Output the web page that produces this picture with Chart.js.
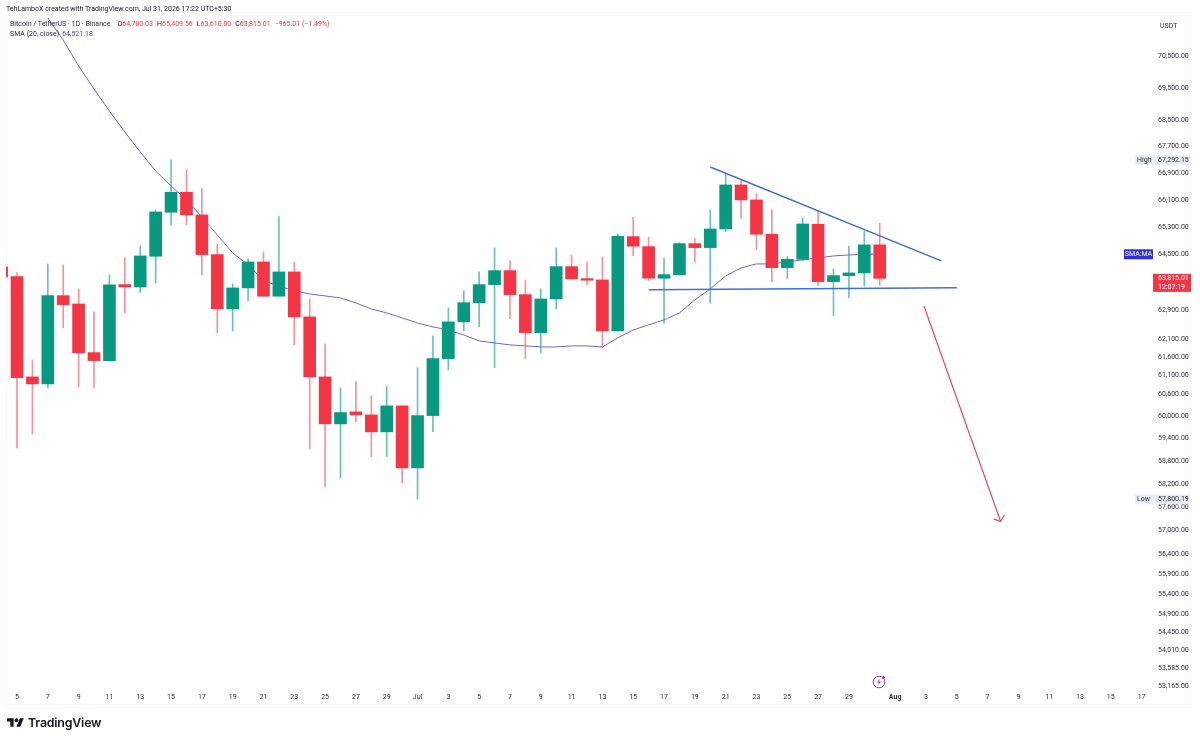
<!DOCTYPE html>
<html>
<head>
<meta charset="utf-8">
<title>BTCUSDT 1D</title>
<script src="https://cdn.jsdelivr.net/npm/chart.js@4/dist/chart.umd.min.js"></script>
<style>
  html, body { margin: 0; padding: 0; background: #fff; }
  #wrap { position: relative; width: 1200px; height: 740px; overflow: hidden; font-family: Roboto, sans-serif; color: #2a2e39; }
  #wrap canvas { position: absolute; left: 0; top: 0; }
  .frame { position: absolute; left: 6px; top: 15px; width: 1185px; height: 690px; border: 1px solid #f7f8fb; box-sizing: border-box; }
  .txt { position: absolute; white-space: nowrap; font-size: 7px; line-height: 10px; }
  .red { color: #f23645; }
  .blue { color: #3f3fd0; }
  .gap { margin-left: 4px; }
  #logoText { position: absolute; left: 28px; top: 715px; font: 600 12.4px Inter, sans-serif; color: #131722; letter-spacing: -0.2px; }
</style>
</head>
<body>
<div id="wrap">
  <div class="frame"></div>
  <canvas id="chart" width="1200" height="740"></canvas>
  <div class="txt" style="left:6px;top:4px;color:#131722">TehLamboX created with TradingView.com, Jul 31, 2026 17:22 UTC+5:30</div>
  <div class="txt" style="left:10px;top:19px">Bitcoin / TetherUS · 1D · Binance<span style="margin-left:7px">O</span><span class="red">64,780.03</span><span class="gap">H</span><span class="red">65,409.56</span><span class="gap">L</span><span class="red">63,610.00</span><span class="gap">C</span><span class="red">63,815.01</span><span class="red gap">−965.01 (−1.49%)</span></div>
  <div class="txt" style="left:10px;top:29px">SMA (20, close)<span class="blue" style="margin-left:3px">64,521.18</span></div>
  <div class="txt" style="left:1160px;top:21px">USDT</div>
  <svg style="position:absolute;left:871px;top:673px" width="18" height="18" viewBox="0 0 18 18">
    <circle cx="8" cy="9" r="5.8" fill="none" stroke="#8e4fa8" stroke-width="1"/>
    <path d="M9 5.5 6 9.5h2l-1 3 3-4H8z" fill="#8e4fa8"/>
    <circle cx="12.5" cy="4.5" r="1.5" fill="#e91e63"/>
  </svg>
  <svg style="position:absolute;left:7px;top:718px" width="17" height="9" viewBox="0 4 36 18">
    <path d="M14 22H7V11H0V4h14v18zM28 22h-8l7.5-18h8L28 22z" fill="#131722"/>
    <circle cx="20" cy="8" r="4" fill="#131722"/>
  </svg>
  <div id="logoText">TradingView</div>
</div>

<script>
  // Daily candles, first entry is the day cut off by the left edge
  const opens = [64143, 63865, 61060, 60868, 63324, 63088, 61728, 61507, 63637, 63571, 64451, 65734, 66326, 65655, 64498, 62947, 63543, 64287, 63307, 64000, 62723, 61060, 59788, 60110, 60029, 59574, 60272, 58621, 60010, 61562, 62583, 63124, 63637, 64037, 63352, 62283, 63230, 64152, 63808, 63771, 62331, 65020, 64730, 63819, 63914, 64817, 64701, 65244, 66543, 66098, 65089, 64123, 64364, 65381, 63722, 63894, 63971, 64780.03];
  const highs = [64143, 63980, 61527, 64230, 64201, 63514, 62863, 63914, 64411, 64750, 65802, 67292.15, 66991, 66433, 64808, 63657, 64374, 64575, 65605, 64278, 63230, 61969, 60760, 60931, 60542, 60795, 60272, 61314, 62191, 62976, 63466, 64000, 64692, 64316, 63771, 63514, 64692, 64489, 64278, 64431, 65098, 65587, 65002, 64394, 64846, 64973, 65802, 66871, 66692, 66296, 65802, 64440, 65575, 65772, 64085, 64741, 65172, 65409.56];
  const lows = [63856, 59148, 59520, 60760, 62423, 60795, 60760, 61498, 62835, 63409, 63685, 65352, 65361, 63914, 62275, 62331, 63182, 63307, 63307, 61941, 59122, 58124, 58359, 59849, 58919, 58919, 58228, 57800.19, 59582, 61251, 62331, 62450, 61314, 62667, 61562, 61720, 62947, 63800, 63628, 61858, 62331, 64469, 63750, 62546, 63914, 64278, 63107, 65165, 65557, 64634, 63722, 63819, 64324, 63608, 62760, 63267, 63600, 63610];
  const closes = [63856, 61040, 60868, 63324, 63069, 61720, 61507, 63628, 63571, 64460, 65743, 66326, 65655, 64498, 62947, 63543, 64287, 63307, 64000, 62723, 61060, 59788, 60091, 60029, 59574, 60272, 58621, 60010, 61562, 62583, 63124, 63637, 64037, 63352, 62283, 63230, 64152, 63800, 63762, 62331, 65031, 64741, 63819, 63922, 64817, 64701, 65244, 66543, 66098, 65089, 64123, 64364, 65390, 63722, 63894, 63971, 64780, 63815.01];
  const firstDay = -1;

  // SMA 20, begins where it drops in from above the pane
  const smaValues = [71711, 71007, 70185, 69466, 68785, 68141, 67533, 66961, 66513, 66098, 65596, 65069, 64547, 64201, 63742, 63600, 63457, 63372, 63315, 63258, 63117, 62947, 62835, 62695, 62554, 62442, 62358, 62218, 62052, 61996, 61941, 61913, 61885, 61885, 61913, 61913, 61885, 62135, 62358, 62498, 62639, 62835, 63202, 63514, 63885, 64114, 64230, 64230, 64287, 64345, 64402, 64460, 64489, 64505, 64521.18];
  const smaFirstDay = 2;

  // Drawing tools, x in days from Jun 5
  const resistanceDays = [45, 60];
  const resistancePrices = [67081, 64316];
  const supportDays = [41, 61];
  const supportPrices = [63494, 63551];
  const arrowDays = [58.87, 63.85];
  const arrowPrices = [63032, 57230];
  const arrowHeadDays = [63.4, 63.85, 64.1];
  const arrowHeadPrices = [57298, 57230, 57401];

  const priceTicks = [70500, 69500, 68500, 67700, 66900, 66100, 65300, 64500, 62900, 62100, 61600, 61100, 60600, 60000, 59400, 58800, 58200, 57600, 57000, 56400, 55900, 55400, 54900, 54450, 54010, 53585, 53165];
  const dayTicks = [0, 2, 4, 6, 8, 10, 12, 14, 16, 18, 20, 22, 24, 26, 28, 30, 32, 34, 36, 38, 40, 42, 44, 46, 48, 50, 52, 54, 57, 59, 61, 63, 65, 67, 69, 71, 73];
  const dayLabels = ['5', '7', '9', '11', '13', '15', '17', '19', '21', '23', '25', '27', '29', 'Jul', '3', '5', '7', '9', '11', '13', '15', '17', '19', '21', '23', '25', '27', '29', 'Aug', '3', '5', '7', '9', '11', '13', '15', '17'];

  const lastPrice = 63815.01;
  const lastCountdown = '12:07:19';
  const smaLast = 64521.18;
  const highPrice = 67292.15;
  const lowPrice = 57800.19;

  const UP = '#089981';
  const DOWN = '#f23645';
  const fmt = v => v.toLocaleString('en-US', { minimumFractionDigits: 2, maximumFractionDigits: 2 });
  const AXIS_FONT = 'Roboto';

  const candleColor = opens.map((o, i) => closes[i] >= o ? UP : DOWN);
  const wickColor = opens.map((o, i) => closes[i] >= o ? 'rgba(8,153,129,0.6)' : 'rgba(242,54,69,0.55)');
  const pairs = (xs, ys) => xs.map((x, i) => ({ x: x, y: ys[i] }));

  // Price tags sitting on the right axis
  const priceTags = {
    id: 'priceTags',
    afterDraw(chart) {
      const c = chart.ctx;
      const y = chart.scales.y;
      const right = chart.chartArea.right;
      c.save();
      c.font = '7px ' + AXIS_FONT;
      c.textBaseline = 'middle';

      [['High', highPrice], ['Low', lowPrice]].forEach(([name, price]) => {
        const py = y.getPixelForValue(price);
        c.fillStyle = '#e9edf7';
        c.fillRect(right - 18, py - 5, 55, 10);
        c.fillStyle = '#2a2e39';
        c.textAlign = 'left';
        c.fillText(name, right - 16, py);
        c.fillText(fmt(price), right + 5, py);
      });

      const sy = y.getPixelForValue(smaLast);
      c.fillStyle = '#2f2fd6';
      c.fillRect(right - 29, sy - 4.5, 29, 10);
      c.fillStyle = '#fff';
      c.textAlign = 'center';
      c.fillText('SMA:MA', right - 14.5, sy + 0.5);

      const py = y.getPixelForValue(lastPrice);
      c.fillStyle = DOWN;
      c.fillRect(right, py - 4.5, 38, 18);
      c.fillStyle = '#fff';
      c.textAlign = 'left';
      c.fillText(fmt(lastPrice), right + 5, py);
      c.fillText(lastCountdown, right + 5, py + 9);
      c.restore();
    }
  };

  new Chart(document.getElementById('chart'), {
    data: {
      datasets: [
        {
          type: 'bar', order: 6, grouped: false, barThickness: 1,
          data: lows.map((l, i) => ({ x: firstDay + i, y: [l, highs[i]] })),
          backgroundColor: wickColor
        },
        {
          type: 'line', order: 5,
          data: smaValues.map((v, i) => ({ x: smaFirstDay + i, y: v })),
          borderColor: '#6f66cf', borderWidth: 1, pointRadius: 0, tension: 0
        },
        {
          type: 'bar', order: 4, grouped: false, barThickness: 12,
          data: opens.map((o, i) => ({ x: firstDay + i, y: [o, closes[i]] })),
          backgroundColor: candleColor
        },
        { type: 'line', order: 3, data: pairs(resistanceDays, resistancePrices), borderColor: '#3f6fd0', borderWidth: 1.5, pointRadius: 0 },
        { type: 'line', order: 2, data: pairs(supportDays, supportPrices), borderColor: '#3f6fd0', borderWidth: 1.5, pointRadius: 0 },
        { type: 'line', order: 1, data: pairs(arrowDays, arrowPrices), borderColor: '#e2476a', borderWidth: 1.2, pointRadius: 0 },
        { type: 'line', order: 0, data: pairs(arrowHeadDays, arrowHeadPrices), borderColor: '#e2476a', borderWidth: 1.2, pointRadius: 0 }
      ]
    },
    options: {
      responsive: false,
      animation: false,
      layout: { padding: { left: 6, top: 15, right: 7, bottom: 35 } },
      plugins: { legend: { display: false }, tooltip: { enabled: false } },
      scales: {
        x: {
          type: 'linear',
          offset: false,
          min: -0.714,
          max: 73.74,
          grid: { display: false, drawTicks: false },
          border: { display: false },
          afterBuildTicks(scale) { scale.ticks = dayTicks.map(d => ({ value: d })); },
          afterFit(scale) { scale.height = 17; },
          ticks: {
            autoSkip: false,
            maxRotation: 0,
            padding: 5,
            color: '#2a2e39',
            font: ctx => ({ family: AXIS_FONT, size: 7, weight: ctx.tick && dayLabels[dayTicks.indexOf(ctx.tick.value)] === 'Aug' ? '700' : '400' }),
            callback: v => dayLabels[dayTicks.indexOf(v)]
          }
        },
        y: {
          type: 'logarithmic',
          position: 'right',
          min: 53116,
          max: 71807,
          grid: { display: false, drawTicks: false },
          border: { display: false },
          afterBuildTicks(scale) { scale.ticks = priceTicks.map(v => ({ value: v })); },
          afterFit(scale) { scale.width = 40; },
          ticks: {
            autoSkip: false,
            padding: 5,
            color: '#2a2e39',
            font: { family: AXIS_FONT, size: 7 },
            callback: v => fmt(v)
          }
        }
      }
    },
    plugins: [priceTags]
  });
</script>
</body>
</html>
